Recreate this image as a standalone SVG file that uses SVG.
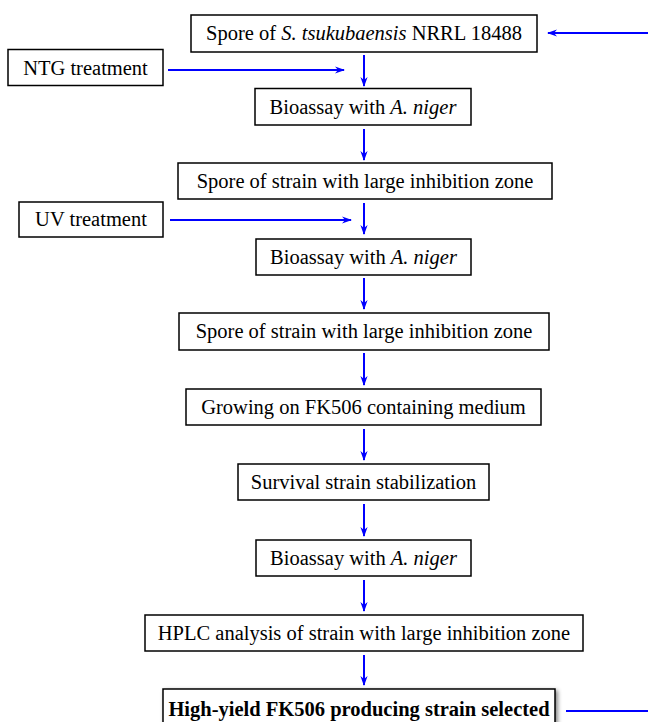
<svg xmlns="http://www.w3.org/2000/svg" width="648" height="722" viewBox="0 0 648 722">
<defs>
<marker id="ahb" viewBox="0 0 10 10" refX="9" refY="5" markerWidth="10" markerHeight="9" orient="auto" markerUnits="userSpaceOnUse" preserveAspectRatio="none">
<path d="M0,1 L10,5 L0,9 L3,5 z" fill="#0000ff"/>
</marker>
<filter id="sh" x="-10%" y="-30%" width="120%" height="160%">
<feGaussianBlur in="SourceAlpha" stdDeviation="2"/>
<feOffset dx="2" dy="2"/>
<feComponentTransfer><feFuncA type="linear" slope="0.5"/></feComponentTransfer>
<feMerge><feMergeNode/><feMergeNode in="SourceGraphic"/></feMerge>
</filter>
</defs>
<style>
rect.b{fill:#fff;stroke:#000;stroke-width:1.5}
text{font-family:"Liberation Serif","Times New Roman",serif;font-size:20.5px;fill:#000;text-anchor:middle}
.c line{stroke:#0000ff;stroke-width:2;marker-end:url(#ahb)}
</style>
<g id="n1"><rect class="b" x="191" y="15" width="346" height="37"/><text x="364" y="40">Spore of <tspan font-style="italic">S. tsukubaensis</tspan> NRRL 18488</text></g>
<g id="ntg"><rect class="b" x="8" y="49.5" width="155" height="36"/><text x="85.5" y="75">NTG treatment</text></g>
<g id="n2"><rect class="b" x="255" y="88.5" width="216" height="36.5"/><text x="363" y="114">Bioassay with <tspan font-style="italic">A. niger</tspan></text></g>
<g id="n3"><rect class="b" x="178" y="163" width="374" height="36"/><text x="365" y="188">Spore of strain with large inhibition zone</text></g>
<g id="uv"><rect class="b" x="19" y="202" width="144" height="35"/><text x="91" y="226">UV treatment</text></g>
<g id="n4"><rect class="b" x="256" y="239" width="215" height="36"/><text x="363.5" y="264">Bioassay with <tspan font-style="italic">A. niger</tspan></text></g>
<g id="n5"><rect class="b" x="179" y="313" width="370" height="37"/><text x="364" y="338">Spore of strain with large inhibition zone</text></g>
<g id="n6"><rect class="b" x="186" y="389" width="355" height="36"/><text x="363.5" y="414">Growing on FK506 containing medium</text></g>
<g id="n7"><rect class="b" x="238" y="464" width="251" height="36"/><text x="363.5" y="489">Survival strain stabilization</text></g>
<g id="n8"><rect class="b" x="256" y="540" width="215" height="36"/><text x="363.5" y="565">Bioassay with <tspan font-style="italic">A. niger</tspan></text></g>
<g id="n9"><rect class="b" x="145" y="615" width="438" height="36"/><text x="364" y="640">HPLC analysis of strain with large inhibition zone</text></g>
<g id="n10"><rect class="b" x="163" y="689" width="392" height="40" filter="url(#sh)"/><text x="359" y="716" font-weight="bold">High-yield FK506 producing strain selected</text></g>
<g class="c" id="connectors">
<line x1="648" y1="33" x2="548" y2="33"/>
<line x1="168" y1="70" x2="344" y2="70"/>
<line x1="364" y1="55" x2="364" y2="86"/>
<line x1="364" y1="129" x2="364" y2="160"/>
<line x1="170" y1="220" x2="351" y2="220"/>
<line x1="364" y1="203" x2="364" y2="234"/>
<line x1="364" y1="278" x2="364" y2="309"/>
<line x1="364" y1="353" x2="364" y2="385"/>
<line x1="364" y1="429" x2="364" y2="460"/>
<line x1="364" y1="504" x2="364" y2="536"/>
<line x1="364" y1="580" x2="364" y2="611"/>
<line x1="364" y1="655" x2="364" y2="685"/>
<line x1="566" y1="711" x2="648" y2="711" style="marker-end:none"/>
</g>
</svg>
